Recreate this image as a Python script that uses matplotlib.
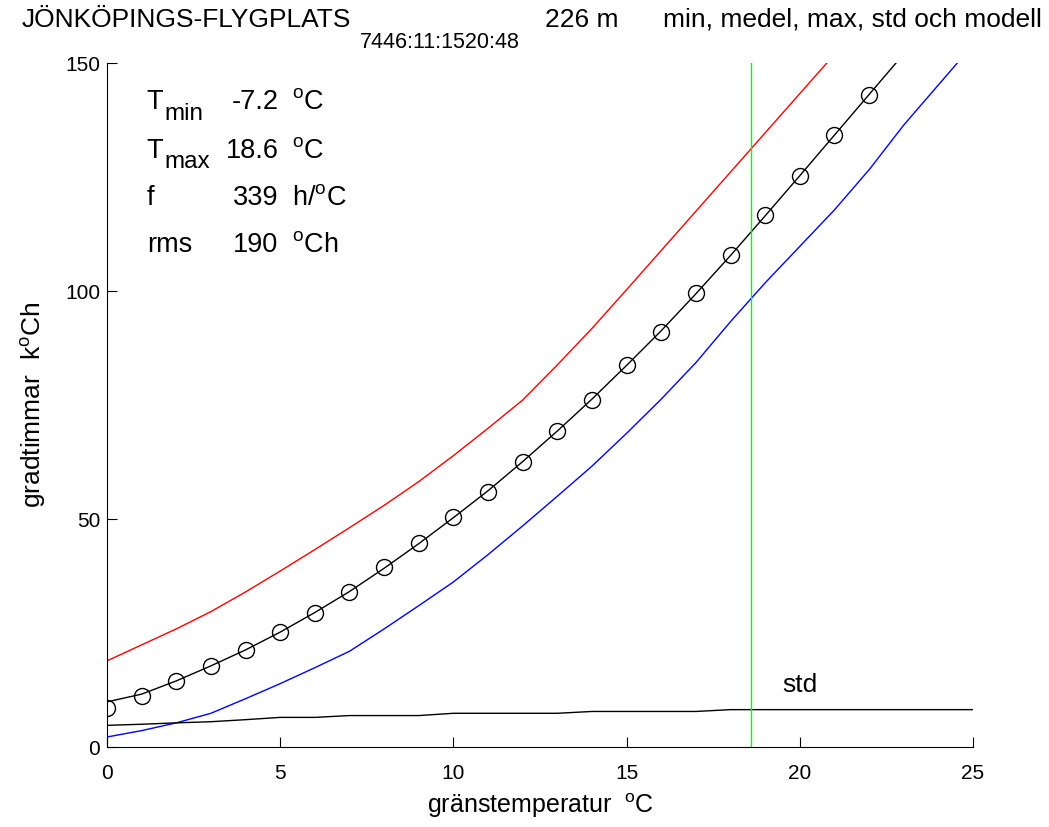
import matplotlib
matplotlib.use("Agg")
import matplotlib.pyplot as plt
import numpy as np

plt.rcParams['font.family'] = ['Liberation Sans', 'DejaVu Sans']
plt.rcParams['mathtext.fontset'] = 'custom'
plt.rcParams['mathtext.rm'] = 'Liberation Sans'
plt.rcParams['mathtext.it'] = 'Liberation Sans'

# gränstemperatur 0..25 grader
temp = np.arange(0, 26)

# medelvärden (cirklar), 0..22
mean_vals = [8.6, 11.25, 14.4, 17.8, 21.3, 25.3, 29.5, 34.1, 39.4, 44.7, 50.4,
             56.0, 62.6, 69.3, 76.2, 83.8, 91.1, 99.5, 107.9, 116.7, 125.3,
             134.2, 143.0]

# modell, 0..23
model_vals = [9.9, 11.6, 14.5, 17.8, 21.3, 25.2, 29.5, 34.1, 39.2, 44.6, 50.3,
              56.2, 62.6, 69.3, 76.3, 83.7, 91.3, 99.4, 107.8, 116.5, 125.3,
              134.2, 143.1, 152.0]

# max, 0..21
max_vals = [18.9, 22.4, 25.9, 29.7, 34.0, 38.6, 43.3, 48.1, 53.0, 58.2, 63.9,
            69.9, 76.1, 83.8, 91.8, 100.3, 108.9, 117.5, 126.1, 134.7, 143.3,
            151.9]

# min, 0..25
min_vals = [2.2, 3.6, 5.3, 7.4, 10.6, 13.9, 17.4, 21.0, 25.9, 31.0, 36.2, 42.2,
            48.5, 55.0, 61.6, 68.8, 76.3, 84.3, 93.3, 101.8, 109.8, 117.8,
            126.6, 136.4, 145.2, 154.0]

# std, 0..25
std_vals = [4.75, 5.0, 5.3, 5.55, 6.0, 6.5, 6.5, 6.9, 6.9, 6.9, 7.4, 7.4, 7.4,
            7.4, 7.8, 7.8, 7.8, 7.8, 8.2, 8.2, 8.2, 8.2, 8.2, 8.2, 8.2, 8.2]

t_min = -7.2
t_max = 18.6
f_val = 339
rms_val = 190

fig = plt.figure(figsize=(10.49, 8.27), dpi=100)
ax = fig.add_axes([0.102, 0.0967, 0.8256, 0.8271])

ax.plot(temp[:len(max_vals)], max_vals, color='#ff0000', lw=1)
ax.plot(temp[:len(min_vals)], min_vals, color='#0000ff', lw=1)
ax.plot(temp[:len(model_vals)], model_vals, color='black', lw=1)
ax.plot(temp[:len(mean_vals)], mean_vals, 'o', mfc='none', mec='black',
        ms=11.5, mew=1)
ax.plot(temp, std_vals, color='black', lw=1)
ax.plot([t_max, t_max], [0, 150], color='#00ff00', lw=1)

ax.set_xlim(0, 25)
ax.set_ylim(0, 150)
ax.set_xticks([0, 5, 10, 15, 20, 25])
ax.set_yticks([0, 50, 100, 150])
ax.spines['top'].set_visible(False)
ax.spines['right'].set_visible(False)
ax.tick_params(direction='in', length=7, labelsize=15)
ax.tick_params(axis='x', pad=12)
ax.tick_params(axis='y', pad=5)

ax.set_xlabel('gränstemperatur  $^{\\rm o}$C', fontsize=18, labelpad=6)
ax.set_ylabel('gradtimmar  k$^{\\rm o}$Ch', fontsize=19, labelpad=12)

ax.text(19.5, 11, 'std', fontsize=19, va='bottom')

fs = 19.5
rows = [
    ('T', 'min', f'{t_min:.1f}', '$^{\\rm o}$C', 141.5),
    ('T', 'max', f'{t_max:.1f}', '$^{\\rm o}$C', 130.8),
    ('f', '', f'{f_val}', 'h/$^{\\rm o}$C', 120.3),
    ('rms', '', f'{rms_val}', '$^{\\rm o}$Ch', 110.0),
]
for name, sub, val, unit, yy in rows:
    ax.text(1.15, yy, name, fontsize=fs, va='center')
    if sub:
        ax.text(1.65, yy - 2.6, sub, fontsize=17.5, va='center')
    ax.text(4.95, yy, val, fontsize=fs, va='center', ha='right')
    ax.text(5.35, yy, unit, fontsize=fs, va='center')

fig.text(22 / 1049, 1 - 20 / 827, 'JÖNKÖPINGS-FLYGPLATS', fontsize=19, va='center')
fig.text(360 / 1049, 1 - 43 / 827, '7446:11:1520:48', fontsize=15.5, va='center')
fig.text(545 / 1049, 1 - 20 / 827, '226 m', fontsize=19, va='center')
fig.text(663 / 1049, 1 - 20 / 827, 'min, medel, max, std och modell', fontsize=19, va='center')

fig.savefig('out.png', dpi=100)
